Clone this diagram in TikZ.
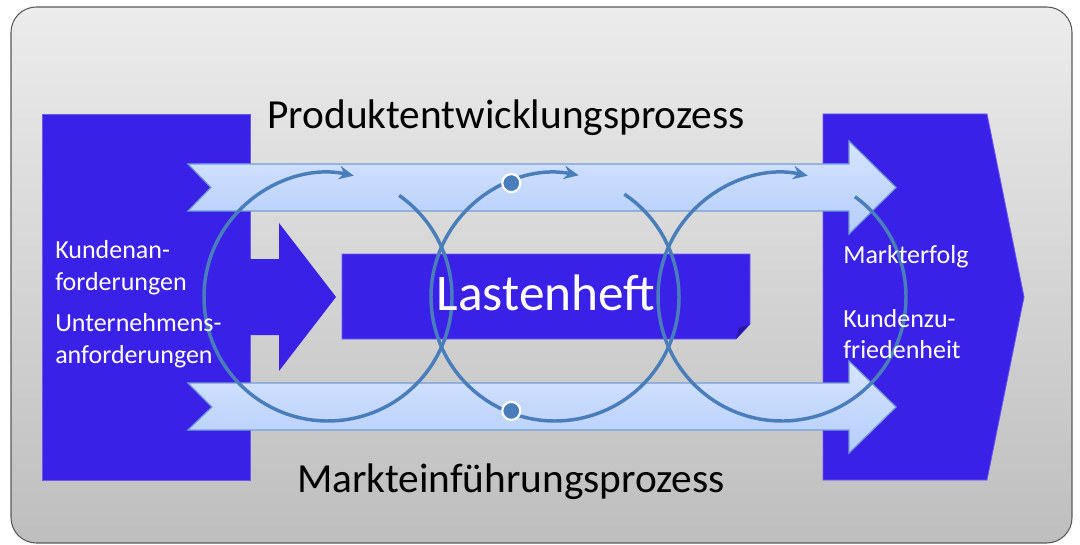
\documentclass[tikz,border=0pt]{standalone}
\usepackage{fontspec}
\setmainfont{Carlito}
\usetikzlibrary{arrows.meta}

\definecolor{boxblue}{RGB}{58,33,232}
\definecolor{ringblue}{RGB}{74,126,187}
\definecolor{bandtop}{RGB}{215,229,255}
\definecolor{bandbot}{RGB}{180,205,250}
\definecolor{bandline}{RGB}{118,156,212}
\definecolor{frametop}{RGB}{236,236,236}
\definecolor{framebot}{RGB}{190,190,190}

\begin{document}
\begin{tikzpicture}[x=0.75pt,y=-0.75pt,
  blok/.style={fill=boxblue,draw=boxblue!75!white,line width=0.6pt},
  band/.style={top color=bandtop,bottom color=bandbot,draw=bandline,line width=0.9pt},
  ring/.style={draw=ringblue,line width=2.6pt,-{Stealth[length=11pt,width=10pt,inset=3.5pt]}},
  punkt/.style={fill=ringblue,draw=white,line width=1.6pt},
  titel/.style={font=\fontsize{31}{36}\selectfont,inner sep=0pt,anchor=base},
  klein/.style={font=\fontsize{19.5}{22}\selectfont,text=white,inner sep=0pt,anchor=base west}]

\useasboundingbox (0,0) rectangle (1080,545);

% Background frame
\draw[rounded corners=19pt,top color=frametop,bottom color=framebot,draw=black!65,line width=0.8pt] (11,7) rectangle (1072,543);

% Input block, output block and the arrow into the Lastenheft
\draw[blok] (42,114) rectangle (250,480);
\draw[blok] (823,114) -- (987,114) -- (1024,297) -- (987,480) -- (823,480) -- cycle;
\fill[boxblue] (248,259) -- (279,259) -- (279,223) -- (336,297) -- (279,371) -- (279,335) -- (248,335) -- cycle;

\draw[blok] (342,254) -- (750,254) -- (750,324) -- (736,339) -- (342,339) -- cycle;
\fill[boxblue!70!black] (736,339) -- (739,328) -- (750,324) -- cycle;

% Process bands
\draw[band] (188,164) -- (849,164) -- (849,141) -- (896,187.5) -- (849,234) -- (849,211) -- (188,211) -- (211,187.5) -- cycle;
\draw[band] (188,383) -- (849,383) -- (849,361) -- (896,407) -- (849,453) -- (849,430) -- (188,430) -- (212,407) -- cycle;

% Loops
\draw[ring] (328,297) ++(-55:124) arc[start angle=-55,end angle=282,radius=124];
\draw[ring] (555,297) ++(-56:124) arc[start angle=-56,end angle=281,radius=124];
\draw[ring] (782,297) ++(-54:124) arc[start angle=-54,end angle=282,radius=124];

\draw[punkt] (555,297) ++(249:122) circle[radius=9];
\draw[punkt] (555,297) ++(111:122) circle[radius=9];

% Labels
\node[text=white,font=\fontsize{38.5}{42}\selectfont,inner sep=0pt] (lasten) at (546,293) {Lastenheft};

\node[titel] (pep) at (506,129) {Produktentwicklungsprozess};
\node[titel] (mep) at (511,492) {Markteinführungsprozess};

\node[klein] (ka1) at (55,258) {Kundenan-};
\node[klein] (ka2) at (55,290) {forderungen};
\node[klein] (ua1) at (55,331) {Unternehmens-};
\node[klein] (ua2) at (55,363) {anforderungen};

\node[klein] (me) at (843,263) {Markterfolg};
\node[klein] (kz1) at (843,327) {Kundenzu-};
\node[klein] (kz2) at (843,358) {friedenheit};

\end{tikzpicture}
\end{document}
